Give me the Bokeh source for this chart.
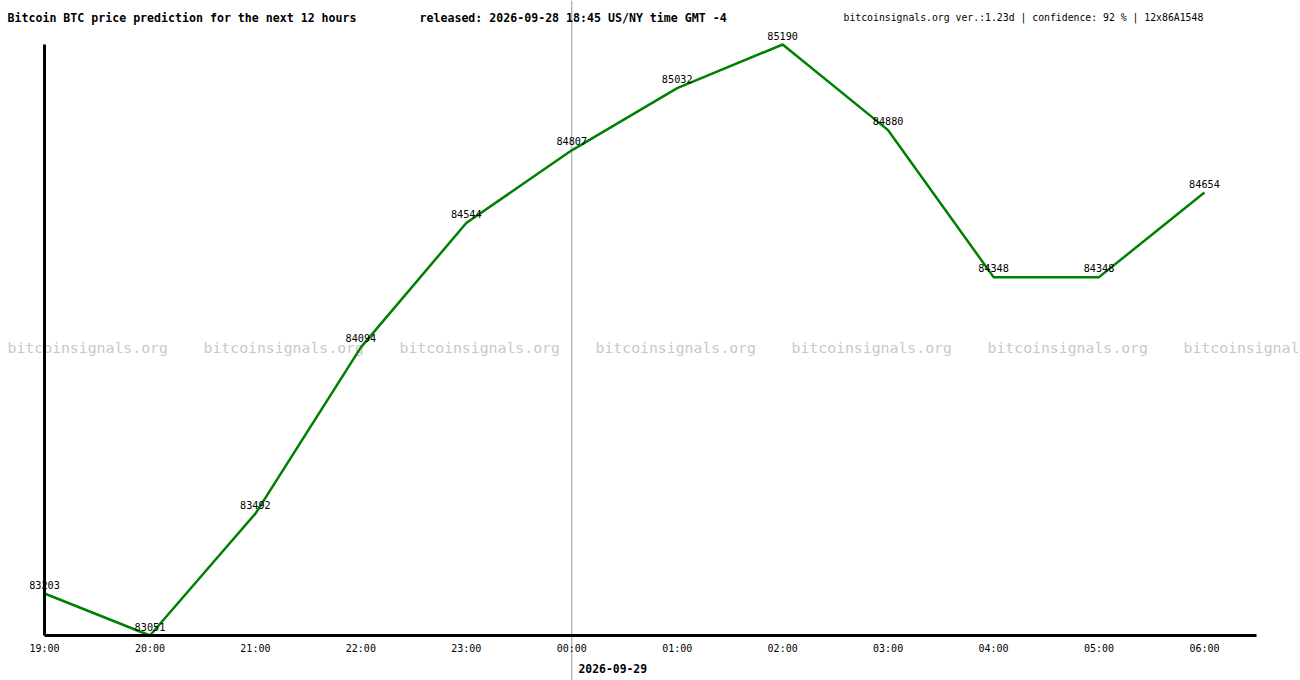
from bokeh.plotting import figure
from bokeh.models import Range1d, LinearAxis, FixedTicker, Label, Span, ColumnDataSource
from bokeh.core.properties import value
from bokeh.embed import file_html
from bokeh.resources import INLINE

# ---- data ----
hours = ["19:00", "20:00", "21:00", "22:00", "23:00", "00:00",
         "01:00", "02:00", "03:00", "04:00", "05:00", "06:00"]
prices = [83203, 83051, 83492, 84094, 84544, 84807,
          85032, 85190, 84880, 84348, 84348, 84654]
title_text = "Bitcoin BTC price prediction for the next 12 hours"
released_text = "released: 2026-09-28 18:45 US/NY time GMT -4"
info_text = "bitcoinsignals.org ver.:1.23d | confidence: 92 % | 12x86A1548"
date_text = "2026-09-29"
watermark = "bitcoinsignals.org"
day_change_index = 5

xs = list(range(len(hours)))
src = ColumnDataSource(dict(x=xs, y=prices, t=[str(v) for v in prices]))

W, H = 1300, 680
step = 105.45
x0 = -44 / step
x1 = x0 + W / step
ppu = 591 / (max(prices) - min(prices))
y_top = max(prices) + 44 / ppu
y_bot = min(prices) - 45 / ppu

p = figure(width=W, height=H, x_range=Range1d(x0, x1), y_range=Range1d(y_bot, y_top),
           min_border=0, toolbar_location=None, output_backend="svg",
           x_axis_type=None, y_axis_type=None)
p.grid.visible = False
p.outline_line_color = None
p.background_fill_color = "white"
p.border_fill_color = "white"

MONO = "DejaVu Sans Mono"

# watermark
for i in range(7):
    p.add_layout(Label(x=7 + 196 * i, y=333, x_units="screen", y_units="screen",
                       text=watermark, text_font=MONO, text_font_size="14.8px",
                       text_color="#c8c8c8", text_baseline="alphabetic", level="underlay"))

# day-change line
p.add_layout(Span(location=day_change_index, dimension="height",
                  line_color="#999999", line_width=1, level="underlay"))

# price line
p.line("x", "y", source=src, line_color="#008000", line_width=2.5)
p.text("x", "y", text="t", source=src, text_font=value(MONO), text_font_size="10.2px",
       text_color="black", text_align="center", text_baseline="bottom", y_offset=-5)

# axes
xa = LinearAxis(fixed_location=min(prices), bounds=(0, 11.49),
                ticker=FixedTicker(ticks=xs),
                major_label_overrides={i: h for i, h in enumerate(hours)})
xa.axis_line_width = 3
xa.axis_line_color = "black"
xa.major_tick_in = 0
xa.major_tick_out = 0
xa.minor_tick_in = 0
xa.minor_tick_out = 0
xa.major_label_standoff = 7
xa.major_label_text_font = MONO
xa.major_label_text_font_size = "10px"
xa.major_label_text_color = "black"
p.add_layout(xa, "below")

ya = LinearAxis(fixed_location=0, bounds=(min(prices), max(prices)),
                ticker=FixedTicker(ticks=[]))
ya.axis_line_width = 3
ya.axis_line_color = "black"
ya.major_tick_in = 0
ya.major_tick_out = 0
ya.minor_tick_in = 0
ya.minor_tick_out = 0
ya.major_label_text_alpha = 0
p.add_layout(ya, "left")

# header texts
p.add_layout(Label(x=7, y=663, x_units="screen", y_units="screen", text=title_text,
                   text_font=MONO, text_font_style="bold", text_font_size="11.6px",
                   text_color="black", text_baseline="alphabetic"))
p.add_layout(Label(x=419, y=663, x_units="screen", y_units="screen", text=released_text,
                   text_font=MONO, text_font_style="bold", text_font_size="11.6px",
                   text_color="black", text_baseline="alphabetic"))
p.add_layout(Label(x=843, y=663, x_units="screen", y_units="screen", text=info_text,
                   text_font=MONO, text_font_size="9.8px",
                   text_color="black", text_baseline="alphabetic"))
p.add_layout(Label(x=578, y=12, x_units="screen", y_units="screen", text=date_text,
                   text_font=MONO, text_font_style="bold", text_font_size="11.4px",
                   text_color="black", text_baseline="alphabetic"))

open("out.html", "w").write(file_html(p, INLINE))
